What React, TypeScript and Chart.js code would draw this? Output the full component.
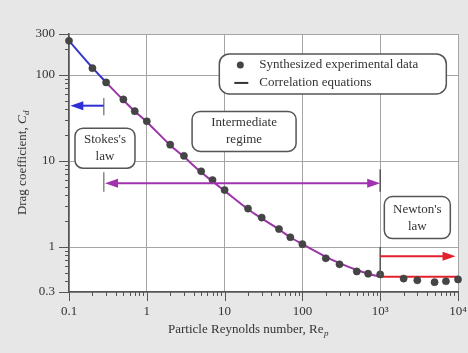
import React, { useEffect, useRef } from "react";
import { Chart, registerables } from "chart.js";

Chart.register(...registerables);

// ---- Data ----
const reynoldsPoints = [0.1, 0.2, 0.3, 0.5, 0.7, 1, 2, 3, 5, 7, 10, 20, 30, 50, 70, 100, 200, 300, 500, 700, 1000, 2000, 3000, 5000, 7000, 10000];
const dragPoints = [250, 120, 82, 52, 38, 29, 15.5, 11.5, 7.6, 6.0, 4.6, 2.8, 2.2, 1.62, 1.3, 1.08, 0.74, 0.63, 0.52, 0.49, 0.48, 0.43, 0.41, 0.39, 0.4, 0.42];

const stokesRe = [0.1, 0.2, 0.3];
const stokesCd = [250, 122, 82];
const interRe = [0.3, 0.5, 0.7, 1, 2, 3, 5, 7, 10, 20, 30, 50, 70, 100, 200, 300, 500, 700, 1000];
const interCd = [82, 51, 38, 28.5, 15.3, 11.2, 7.4, 5.8, 4.5, 2.75, 2.15, 1.6, 1.3, 1.08, 0.77, 0.65, 0.54, 0.49, 0.45];
const newtonRe = [1000, 10000];
const newtonCd = [0.45, 0.45];

const xTickValues = [0.1, 1, 10, 100, 1000, 10000];
const xTickLabels = ["0.1", "1", "10", "100", "10³", "10⁴"];
const yTickValues = [0.3, 1, 10, 100, 300];
const yTickLabels = ["0.3", "1", "10", "100", "300"];

const legendLabels = ["Synthesized experimental data", "Correlation equations"];

const SERIF = "'Liberation Serif', 'DejaVu Serif', serif";

const toXY = (xs: number[], ys: number[]) => xs.map((x, i) => ({ x, y: ys[i] }));

function arrow(ctx: CanvasRenderingContext2D, x1: number, x2: number, y: number, color: string, headStart: boolean, headEnd: boolean) {
  const hl = 13, hw = 4.5;
  ctx.save();
  ctx.strokeStyle = color;
  ctx.fillStyle = color;
  ctx.lineWidth = 2;
  const dir = x2 > x1 ? 1 : -1;
  ctx.beginPath();
  ctx.moveTo(headStart ? x1 + dir * hl * 0.8 : x1, y);
  ctx.lineTo(headEnd ? x2 - dir * hl * 0.8 : x2, y);
  ctx.stroke();
  const head = (tip: number, d: number) => {
    ctx.beginPath();
    ctx.moveTo(tip, y);
    ctx.lineTo(tip - d * hl, y - hw);
    ctx.lineTo(tip - d * hl, y + hw);
    ctx.closePath();
    ctx.fill();
  };
  if (headEnd) head(x2, dir);
  if (headStart) head(x1, -dir);
  ctx.restore();
}

function roundBox(ctx: CanvasRenderingContext2D, cx: number, cy: number, w: number, h: number, r: number) {
  const x = cx - w / 2, y = cy - h / 2;
  ctx.save();
  ctx.beginPath();
  ctx.moveTo(x + r, y);
  ctx.lineTo(x + w - r, y);
  ctx.arcTo(x + w, y, x + w, y + r, r);
  ctx.lineTo(x + w, y + h - r);
  ctx.arcTo(x + w, y + h, x + w - r, y + h, r);
  ctx.lineTo(x + r, y + h);
  ctx.arcTo(x, y + h, x, y + h - r, r);
  ctx.lineTo(x, y + r);
  ctx.arcTo(x, y, x + r, y, r);
  ctx.closePath();
  ctx.fillStyle = "#ffffff";
  ctx.fill();
  ctx.strokeStyle = "#555555";
  ctx.lineWidth = 1.5;
  ctx.stroke();
  ctx.restore();
}

function vtick(ctx: CanvasRenderingContext2D, x: number, y1: number, y2: number, color: string) {
  ctx.save();
  ctx.strokeStyle = color;
  ctx.lineWidth = 1.5;
  ctx.beginPath();
  ctx.moveTo(x, y1);
  ctx.lineTo(x, y2);
  ctx.stroke();
  ctx.restore();
}

const backgroundPlugin = {
  id: "bg",
  beforeDraw(chart: any) {
    const { ctx, chartArea: a, width, height } = chart;
    ctx.save();
    ctx.fillStyle = "#e7e7e7";
    ctx.fillRect(0, 0, width, height);
    ctx.fillStyle = "#ffffff";
    ctx.fillRect(a.left, a.top, a.right - a.left, a.bottom - a.top);
    ctx.restore();
  },
};

const decorPlugin = {
  id: "decor",
  afterDatasetsDraw(chart: any) {
    const { ctx } = chart;
    const xs = chart.scales.x;
    const ys = chart.scales.y;
    const px = (v: number) => xs.getPixelForValue(v);
    const py = (v: number) => ys.getPixelForValue(v);

    // Stokes's law arrow
    vtick(ctx, px(0.28), py(54), py(34), "#888888");
    arrow(ctx, px(0.28), px(0.104), py(44), "#2f2fd6", false, true);
    // Intermediate regime double arrow
    vtick(ctx, px(0.28), py(7.4), py(4.4), "#888888");
    vtick(ctx, px(1000), py(8), py(4.4), "#555555");
    arrow(ctx, px(0.29), px(1000), py(5.5), "#a032b0", true, true);
    // Newton's law arrow
    vtick(ctx, px(1000), py(1.0), py(0.45), "#555555");
    arrow(ctx, px(1000), px(9300), py(0.78), "#e3202c", false, true);

    ctx.save();
    ctx.font = `13px ${SERIF}`;
    ctx.fillStyle = "#333333";
    ctx.textAlign = "center";
    ctx.textBaseline = "middle";
    const label = (cx: number, cy: number, w: number, h: number, l1: string, l2: string) => {
      roundBox(ctx, cx, cy, w, h, 8);
      ctx.fillText(l1, cx, cy - 8.5);
      ctx.fillText(l2, cx, cy + 8.5);
    };
    label(px(0.29), py(14.1), 60, 40, "Stokes's", "law");
    label(px(17.8), py(22.1), 104, 40, "Intermediate", "regime");
    label(px(3000), py(2.2), 66, 42, "Newton's", "law");

    // Legend
    const lcx = px(246), lcy = py(103);
    roundBox(ctx, lcx, lcy, 227, 40, 10);
    const lx = lcx - 113.5;
    ctx.beginPath();
    ctx.arc(lx + 21, lcy - 9, 3.5, 0, Math.PI * 2);
    ctx.fillStyle = "#444444";
    ctx.fill();
    ctx.strokeStyle = "#333333";
    ctx.lineWidth = 2;
    ctx.beginPath();
    ctx.moveTo(lx + 15, lcy + 9);
    ctx.lineTo(lx + 29, lcy + 9);
    ctx.stroke();
    ctx.fillStyle = "#333333";
    ctx.textAlign = "left";
    ctx.fillText(legendLabels[0], lx + 40, lcy - 9);
    ctx.fillText(legendLabels[1], lx + 40, lcy + 9);
    ctx.restore();
  },
  afterDraw(chart: any) {
    const { ctx, chartArea: a } = chart;
    const xs = chart.scales.x;
    const ys = chart.scales.y;
    ctx.save();
    ctx.strokeStyle = "#555555";
    ctx.lineWidth = 1;
    // x minor / major tick marks
    for (let d = -1; d <= 3; d++) {
      for (let k = 1; k <= 10; k++) {
        const v = k * Math.pow(10, d);
        if (v < 0.1 || v > 10000) continue;
        const p = Math.round(xs.getPixelForValue(v)) + 0.5;
        const len = k === 1 || k === 10 ? 9 : 4;
        ctx.beginPath();
        ctx.moveTo(p, a.bottom);
        ctx.lineTo(p, a.bottom + len);
        ctx.stroke();
      }
    }
    // y minor / major tick marks
    for (let d = -1; d <= 2; d++) {
      for (let k = 1; k <= 10; k++) {
        const v = k * Math.pow(10, d);
        if (v < 0.3 || v > 300) continue;
        const p = Math.round(ys.getPixelForValue(v)) + 0.5;
        const len = k === 1 || k === 10 ? 10 : 4;
        ctx.beginPath();
        ctx.moveTo(a.left, p);
        ctx.lineTo(a.left - len, p);
        ctx.stroke();
      }
    }
    for (const v of [0.3, 300]) {
      const p = Math.round(ys.getPixelForValue(v)) + 0.5;
      ctx.beginPath();
      ctx.moveTo(a.left, p);
      ctx.lineTo(a.left - 10, p);
      ctx.stroke();
    }

    // Axis titles
    ctx.fillStyle = "#333333";
    ctx.textBaseline = "alphabetic";
    ctx.textAlign = "left";
    const font = `13px ${SERIF}`;
    const ifont = `italic 13px ${SERIF}`;
    const sfont = `italic 9px ${SERIF}`;
    // x title
    ctx.font = font;
    const t1 = "Particle Reynolds number, Re";
    const w1 = ctx.measureText(t1).width;
    const xStart = 168;
    const xBase = 333;
    ctx.fillText(t1, xStart, xBase);
    ctx.font = sfont;
    ctx.fillText("p", xStart + w1 + 0.5, xBase + 3);

    // y title (rotated)
    ctx.save();
    ctx.translate(26, 163);
    ctx.rotate(-Math.PI / 2);
    ctx.font = font;
    const t2 = "Drag coefficient, ";
    const w2 = ctx.measureText(t2).width;
    ctx.font = ifont;
    const wc = ctx.measureText("C").width;
    ctx.font = sfont;
    const wd = ctx.measureText("d").width;
    const tot = w2 + wc + wd;
    let sx = -tot / 2;
    ctx.font = font;
    ctx.fillText(t2, sx, 0);
    sx += w2;
    ctx.font = ifont;
    ctx.fillText("C", sx, 0);
    sx += wc;
    ctx.font = sfont;
    ctx.fillText("d", sx + 0.5, 3);
    ctx.restore();

    ctx.restore();
  },
};

export default function App() {
  const ref = useRef<HTMLCanvasElement | null>(null);

  useEffect(() => {
    document.body.style.margin = "0";
    const canvas = ref.current;
    if (!canvas) return;
    const chart = new Chart(canvas, {
      type: "scatter",
      data: {
        datasets: [
          {
            label: legendLabels[0],
            data: toXY(reynoldsPoints, dragPoints),
            showLine: false,
            pointRadius: 3.6,
            pointBackgroundColor: "#454545",
            pointBorderColor: "#3a3a3a",
            pointBorderWidth: 0.5,
            clip: false,
          } as any,
          {
            label: "Stokes",
            data: toXY(stokesRe, stokesCd),
            showLine: true,
            borderColor: "#3535c8",
            borderWidth: 2,
            pointRadius: 0,
            cubicInterpolationMode: "monotone",
          },
          {
            label: "Intermediate",
            data: toXY(interRe, interCd),
            showLine: true,
            borderColor: "#9b35a8",
            borderWidth: 2,
            pointRadius: 0,
            cubicInterpolationMode: "monotone",
          },
          {
            label: "Newton",
            data: toXY(newtonRe, newtonCd),
            showLine: true,
            borderColor: "#e3202c",
            borderWidth: 2,
            pointRadius: 0,
          },
        ],
      },
      options: {
        responsive: false,
        animation: false,
        devicePixelRatio: 1,
        layout: { padding: { top: 34, right: 10, left: 0, bottom: 0 } },
        plugins: { legend: { display: false }, tooltip: { enabled: false } },
        scales: {
          x: {
            type: "logarithmic",
            min: 0.1,
            max: 10000,
            afterBuildTicks: (s: any) => {
              s.ticks = xTickValues.map((v) => ({ value: v }));
            },
            afterFit: (s: any) => {
              s.height = 61;
              s.paddingRight = 0;
              s.paddingLeft = 0;
            },
            ticks: {
              autoSkip: false,
              maxRotation: 0,
              padding: 12,
              color: "#333333",
              font: { family: SERIF, size: 13 },
              callback: (v: any) => {
                const i = xTickValues.indexOf(Number(v));
                return i >= 0 ? xTickLabels[i] : "";
              },
            },
            grid: { color: "#a5a5a5", lineWidth: 1, drawTicks: false },
            border: { display: true, color: "#555555", width: 1.5 },
          },
          y: {
            type: "logarithmic",
            min: 0.3,
            max: 300,
            afterBuildTicks: (s: any) => {
              s.ticks = yTickValues.map((v) => ({ value: v }));
            },
            afterFit: (s: any) => {
              s.width = 69;
              s.paddingTop = 0;
              s.paddingBottom = 0;
            },
            ticks: {
              autoSkip: false,
              padding: 14,
              color: "#333333",
              font: { family: SERIF, size: 13 },
              callback: (v: any) => {
                const i = yTickValues.indexOf(Number(v));
                return i >= 0 ? yTickLabels[i] : "";
              },
            },
            grid: { color: "#a5a5a5", lineWidth: 1, drawTicks: false },
            border: { display: true, color: "#555555", width: 1.5 },
          },
        },
      },
      plugins: [backgroundPlugin, decorPlugin],
    });
    return () => chart.destroy();
  }, []);

  return <canvas ref={ref} width={468} height={353} style={{ display: "block" }} />;
}
